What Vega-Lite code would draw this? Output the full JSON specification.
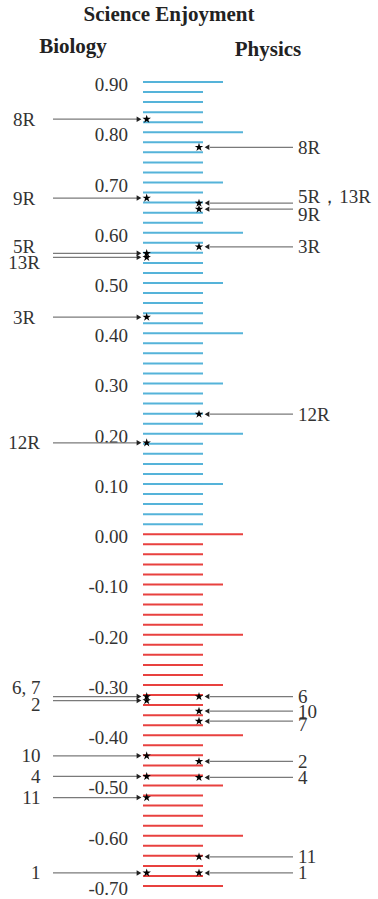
{
  "$schema": "https://vega.github.io/schema/vega-lite/v6.json",
  "width": 378,
  "height": 899,
  "autosize": {"type": "none"},
  "padding": 0,
  "background": "white",
  "config": {
    "view": {"stroke": null},
    "locale": {"number": {"decimal": ".", "thousands": ",", "grouping": [3], "currency": ["$", ""], "minus": "-"}},
    "text": {"font": "Liberation Serif"}
  },
  "datasets": {
    "ticks": [
      {"value": 0.90, "kind": "mid"}, {"value": 0.88, "kind": "minor"}, {"value": 0.86, "kind": "minor"}, {"value": 0.84, "kind": "minor"}, {"value": 0.82, "kind": "minor"},
      {"value": 0.80, "kind": "major"}, {"value": 0.78, "kind": "minor"}, {"value": 0.76, "kind": "minor"}, {"value": 0.74, "kind": "minor"}, {"value": 0.72, "kind": "minor"},
      {"value": 0.70, "kind": "mid"}, {"value": 0.68, "kind": "minor"}, {"value": 0.66, "kind": "minor"}, {"value": 0.64, "kind": "minor"}, {"value": 0.62, "kind": "minor"},
      {"value": 0.60, "kind": "major"}, {"value": 0.58, "kind": "minor"}, {"value": 0.56, "kind": "minor"}, {"value": 0.54, "kind": "minor"}, {"value": 0.52, "kind": "minor"},
      {"value": 0.50, "kind": "mid"}, {"value": 0.48, "kind": "minor"}, {"value": 0.46, "kind": "minor"}, {"value": 0.44, "kind": "minor"}, {"value": 0.42, "kind": "minor"},
      {"value": 0.40, "kind": "major"}, {"value": 0.38, "kind": "minor"}, {"value": 0.36, "kind": "minor"}, {"value": 0.34, "kind": "minor"}, {"value": 0.32, "kind": "minor"},
      {"value": 0.30, "kind": "mid"}, {"value": 0.28, "kind": "minor"}, {"value": 0.26, "kind": "minor"}, {"value": 0.24, "kind": "minor"}, {"value": 0.22, "kind": "minor"},
      {"value": 0.20, "kind": "major"}, {"value": 0.18, "kind": "minor"}, {"value": 0.16, "kind": "minor"}, {"value": 0.14, "kind": "minor"}, {"value": 0.12, "kind": "minor"},
      {"value": 0.10, "kind": "mid"}, {"value": 0.08, "kind": "minor"}, {"value": 0.06, "kind": "minor"}, {"value": 0.04, "kind": "minor"}, {"value": 0.02, "kind": "minor"},
      {"value": 0.00, "kind": "major"}, {"value": -0.02, "kind": "minor"}, {"value": -0.04, "kind": "minor"}, {"value": -0.06, "kind": "minor"}, {"value": -0.08, "kind": "minor"},
      {"value": -0.10, "kind": "mid"}, {"value": -0.12, "kind": "minor"}, {"value": -0.14, "kind": "minor"}, {"value": -0.16, "kind": "minor"}, {"value": -0.18, "kind": "minor"},
      {"value": -0.20, "kind": "major"}, {"value": -0.22, "kind": "minor"}, {"value": -0.24, "kind": "minor"}, {"value": -0.26, "kind": "minor"}, {"value": -0.28, "kind": "minor"},
      {"value": -0.30, "kind": "mid"}, {"value": -0.32, "kind": "minor"}, {"value": -0.34, "kind": "minor"}, {"value": -0.36, "kind": "minor"}, {"value": -0.38, "kind": "minor"},
      {"value": -0.40, "kind": "major"}, {"value": -0.42, "kind": "minor"}, {"value": -0.44, "kind": "minor"}, {"value": -0.46, "kind": "minor"}, {"value": -0.48, "kind": "minor"},
      {"value": -0.50, "kind": "mid"}, {"value": -0.52, "kind": "minor"}, {"value": -0.54, "kind": "minor"}, {"value": -0.56, "kind": "minor"}, {"value": -0.58, "kind": "minor"},
      {"value": -0.60, "kind": "major"}, {"value": -0.62, "kind": "minor"}, {"value": -0.64, "kind": "minor"}, {"value": -0.66, "kind": "minor"}, {"value": -0.68, "kind": "minor"},
      {"value": -0.70, "kind": "mid"}
    ],
    "markers": [
      {"subject": "Biology", "label": "8R", "value": 0.826},
      {"subject": "Biology", "label": "9R", "value": 0.669},
      {"subject": "Biology", "label": "5R", "value": 0.559},
      {"subject": "Biology", "label": "13R", "value": 0.551},
      {"subject": "Biology", "label": "3R", "value": 0.432},
      {"subject": "Biology", "label": "12R", "value": 0.182},
      {"subject": "Biology", "label": "6, 7", "value": -0.323},
      {"subject": "Biology", "label": "2", "value": -0.331},
      {"subject": "Biology", "label": "10", "value": -0.441},
      {"subject": "Biology", "label": "4", "value": -0.482},
      {"subject": "Biology", "label": "11", "value": -0.524},
      {"subject": "Biology", "label": "1", "value": -0.674},
      {"subject": "Physics", "label": "8R", "value": 0.770},
      {"subject": "Physics", "label": "5R，13R", "value": 0.659},
      {"subject": "Physics", "label": "9R", "value": 0.647},
      {"subject": "Physics", "label": "3R", "value": 0.572},
      {"subject": "Physics", "label": "12R", "value": 0.239},
      {"subject": "Physics", "label": "6", "value": -0.323},
      {"subject": "Physics", "label": "10", "value": -0.352},
      {"subject": "Physics", "label": "7", "value": -0.372},
      {"subject": "Physics", "label": "2", "value": -0.452},
      {"subject": "Physics", "label": "4", "value": -0.484},
      {"subject": "Physics", "label": "11", "value": -0.642},
      {"subject": "Physics", "label": "1", "value": -0.674}
    ]
  },
  "layer": [
    {
      "data": {"name": "ticks"},
      "transform": [{"filter": "datum.kind === 'minor'"}],
      "mark": {"type": "rule", "strokeWidth": 2},
      "encoding": {
        "x": {"datum": 0, "type": "quantitative", "scale": {"domain": [-14.3, 23.5], "nice": false, "zero": false}, "axis": null},
        "x2": {"datum": 6},
        "y": {"field": "value", "type": "quantitative", "scale": {"domain": [-0.7259, 1.0632], "nice": false, "zero": false}, "axis": null},
        "color": {"condition": {"test": "datum.value > 0", "value": "#55b3d9"}, "value": "#e8413f"}
      }
    },
    {
      "data": {"name": "ticks"},
      "transform": [{"filter": "datum.kind === 'mid'"}],
      "mark": {"type": "rule", "strokeWidth": 2},
      "encoding": {
        "x": {"datum": 0, "type": "quantitative"},
        "x2": {"datum": 8},
        "y": {"field": "value", "type": "quantitative"},
        "color": {"condition": {"test": "datum.value > 0", "value": "#55b3d9"}, "value": "#e8413f"}
      }
    },
    {
      "data": {"name": "ticks"},
      "transform": [{"filter": "datum.kind === 'major'"}],
      "mark": {"type": "rule", "strokeWidth": 2},
      "encoding": {
        "x": {"datum": 0, "type": "quantitative"},
        "x2": {"datum": 10},
        "y": {"field": "value", "type": "quantitative"},
        "color": {"condition": {"test": "datum.value > 0", "value": "#55b3d9"}, "value": "#e8413f"}
      }
    },
    {
      "data": {"name": "ticks"},
      "transform": [{"filter": "datum.kind !== 'minor'"}],
      "mark": {"type": "text", "align": "right", "baseline": "middle", "dy": 3, "fontSize": 19, "color": "#333333"},
      "encoding": {
        "x": {"datum": -1.5, "type": "quantitative"},
        "y": {"field": "value", "type": "quantitative"},
        "text": {"field": "value", "type": "quantitative", "format": ".2f"}
      }
    },
    {
      "data": {"name": "markers"},
      "transform": [{"filter": "datum.subject === 'Biology'"}],
      "mark": {"type": "rule", "strokeWidth": 1.2, "color": "#7a7a7a"},
      "encoding": {
        "x": {"datum": -9.0, "type": "quantitative"},
        "x2": {"datum": -0.6},
        "y": {"field": "value", "type": "quantitative"}
      }
    },
    {
      "data": {"name": "markers"},
      "transform": [{"filter": "datum.subject === 'Physics'"}],
      "mark": {"type": "rule", "strokeWidth": 1.2, "color": "#7a7a7a"},
      "encoding": {
        "x": {"datum": 6.7, "type": "quantitative"},
        "x2": {"datum": 15.0},
        "y": {"field": "value", "type": "quantitative"}
      }
    },
    {
      "data": {"name": "markers"},
      "transform": [{"filter": "datum.subject === 'Biology'"}],
      "mark": {"type": "point", "shape": "triangle-right", "filled": true, "size": 30, "color": "#222222", "opacity": 1},
      "encoding": {
        "x": {"datum": -0.4, "type": "quantitative"},
        "y": {"field": "value", "type": "quantitative"}
      }
    },
    {
      "data": {"name": "markers"},
      "transform": [{"filter": "datum.subject === 'Physics'"}],
      "mark": {"type": "point", "shape": "triangle-left", "filled": true, "size": 30, "color": "#222222", "opacity": 1},
      "encoding": {
        "x": {"datum": 6.4, "type": "quantitative"},
        "y": {"field": "value", "type": "quantitative"}
      }
    },
    {
      "data": {"name": "markers"},
      "transform": [{"filter": "datum.subject === 'Biology'"}],
      "mark": {"type": "point", "shape": "M0,-1L0.223,-0.307L0.951,-0.309L0.361,0.117L0.588,0.809L0,0.38L-0.588,0.809L-0.361,0.117L-0.951,-0.309L-0.223,-0.307Z", "filled": true, "size": 80, "color": "#000000", "opacity": 1},
      "encoding": {
        "x": {"datum": 0.37, "type": "quantitative"},
        "y": {"field": "value", "type": "quantitative"}
      }
    },
    {
      "data": {"name": "markers"},
      "transform": [{"filter": "datum.subject === 'Physics'"}],
      "mark": {"type": "point", "shape": "M0,-1L0.223,-0.307L0.951,-0.309L0.361,0.117L0.588,0.809L0,0.38L-0.588,0.809L-0.361,0.117L-0.951,-0.309L-0.223,-0.307Z", "filled": true, "size": 80, "color": "#000000", "opacity": 1},
      "encoding": {
        "x": {"datum": 5.6, "type": "quantitative"},
        "y": {"field": "value", "type": "quantitative"}
      }
    },
    {
      "data": {"name": "markers"},
      "transform": [{"filter": "datum.subject === 'Biology' && indexof(datum.label, 'R') >= 0 && datum.label !== '5R' && datum.label !== '13R'"}],
      "mark": {"type": "text", "align": "center", "baseline": "middle", "dy": 0.5, "fontSize": 19, "color": "#333333"},
      "encoding": {
        "x": {"datum": -11.9, "type": "quantitative"},
        "y": {"field": "value", "type": "quantitative"},
        "text": {"field": "label", "type": "nominal"}
      }
    },
    {
      "data": {"name": "markers"},
      "transform": [{"filter": "datum.subject === 'Biology' && datum.label === '5R'"}],
      "mark": {"type": "text", "align": "center", "baseline": "middle", "dy": -6.5, "fontSize": 19, "color": "#333333"},
      "encoding": {
        "x": {"datum": -11.9, "type": "quantitative"},
        "y": {"field": "value", "type": "quantitative"},
        "text": {"field": "label", "type": "nominal"}
      }
    },
    {
      "data": {"name": "markers"},
      "transform": [{"filter": "datum.subject === 'Biology' && datum.label === '13R'"}],
      "mark": {"type": "text", "align": "center", "baseline": "middle", "dy": 6, "fontSize": 19, "color": "#333333"},
      "encoding": {
        "x": {"datum": -11.9, "type": "quantitative"},
        "y": {"field": "value", "type": "quantitative"},
        "text": {"field": "label", "type": "nominal"}
      }
    },
    {
      "data": {"name": "markers"},
      "transform": [{"filter": "datum.subject === 'Biology' && indexof(datum.label, 'R') < 0 && datum.label !== '6, 7' && datum.label !== '2'"}],
      "mark": {"type": "text", "align": "right", "baseline": "middle", "dy": 0.5, "fontSize": 19, "color": "#333333"},
      "encoding": {
        "x": {"datum": -10.25, "type": "quantitative"},
        "y": {"field": "value", "type": "quantitative"},
        "text": {"field": "label", "type": "nominal"}
      }
    },
    {
      "data": {"name": "markers"},
      "transform": [{"filter": "datum.subject === 'Biology' && datum.label === '6, 7'"}],
      "mark": {"type": "text", "align": "right", "baseline": "middle", "dy": -9, "fontSize": 19, "color": "#333333"},
      "encoding": {
        "x": {"datum": -10.25, "type": "quantitative"},
        "y": {"field": "value", "type": "quantitative"},
        "text": {"field": "label", "type": "nominal"}
      }
    },
    {
      "data": {"name": "markers"},
      "transform": [{"filter": "datum.subject === 'Biology' && datum.label === '2'"}],
      "mark": {"type": "text", "align": "right", "baseline": "middle", "dy": 4, "fontSize": 19, "color": "#333333"},
      "encoding": {
        "x": {"datum": -10.25, "type": "quantitative"},
        "y": {"field": "value", "type": "quantitative"},
        "text": {"field": "label", "type": "nominal"}
      }
    },
    {
      "data": {"name": "markers"},
      "transform": [{"filter": "datum.subject === 'Physics' && datum.label !== '5R，13R' && datum.label !== '9R' && datum.label !== '7'"}],
      "mark": {"type": "text", "align": "left", "baseline": "middle", "dy": 0.5, "fontSize": 19, "color": "#333333"},
      "encoding": {
        "x": {"datum": 15.5, "type": "quantitative"},
        "y": {"field": "value", "type": "quantitative"},
        "text": {"field": "label", "type": "nominal"}
      }
    },
    {
      "data": {"name": "markers"},
      "transform": [{"filter": "datum.subject === 'Physics' && datum.label === '5R，13R'"}],
      "mark": {"type": "text", "align": "left", "baseline": "middle", "dy": -6, "fontSize": 19, "color": "#333333"},
      "encoding": {
        "x": {"datum": 15.5, "type": "quantitative"},
        "y": {"field": "value", "type": "quantitative"},
        "text": {"field": "label", "type": "nominal"}
      }
    },
    {
      "data": {"name": "markers"},
      "transform": [{"filter": "datum.subject === 'Physics' && datum.label === '9R'"}],
      "mark": {"type": "text", "align": "left", "baseline": "middle", "dy": 6, "fontSize": 19, "color": "#333333"},
      "encoding": {
        "x": {"datum": 15.5, "type": "quantitative"},
        "y": {"field": "value", "type": "quantitative"},
        "text": {"field": "label", "type": "nominal"}
      }
    },
    {
      "data": {"name": "markers"},
      "transform": [{"filter": "datum.subject === 'Physics' && datum.label === '7'"}],
      "mark": {"type": "text", "align": "left", "baseline": "middle", "dy": 4, "fontSize": 19, "color": "#333333"},
      "encoding": {
        "x": {"datum": 15.5, "type": "quantitative"},
        "y": {"field": "value", "type": "quantitative"},
        "text": {"field": "label", "type": "nominal"}
      }
    },
    {
      "data": {"values": [{"text": "Science Enjoyment"}]},
      "mark": {"type": "text", "align": "center", "baseline": "alphabetic", "fontSize": 21, "fontWeight": "bold", "color": "#222222"},
      "encoding": {
        "x": {"datum": 2.6, "type": "quantitative"},
        "y": {"datum": 1.0214, "type": "quantitative"},
        "text": {"field": "text", "type": "nominal"}
      }
    },
    {
      "data": {"values": [{"text": "Biology"}]},
      "mark": {"type": "text", "align": "center", "baseline": "alphabetic", "fontSize": 21, "fontWeight": "bold", "color": "#222222"},
      "encoding": {
        "x": {"datum": -7.0, "type": "quantitative"},
        "y": {"datum": 0.9577, "type": "quantitative"},
        "text": {"field": "text", "type": "nominal"}
      }
    },
    {
      "data": {"values": [{"text": "Physics"}]},
      "mark": {"type": "text", "align": "center", "baseline": "alphabetic", "fontSize": 21, "fontWeight": "bold", "color": "#222222"},
      "encoding": {
        "x": {"datum": 12.5, "type": "quantitative"},
        "y": {"datum": 0.9518, "type": "quantitative"},
        "text": {"field": "text", "type": "nominal"}
      }
    }
  ]
}
